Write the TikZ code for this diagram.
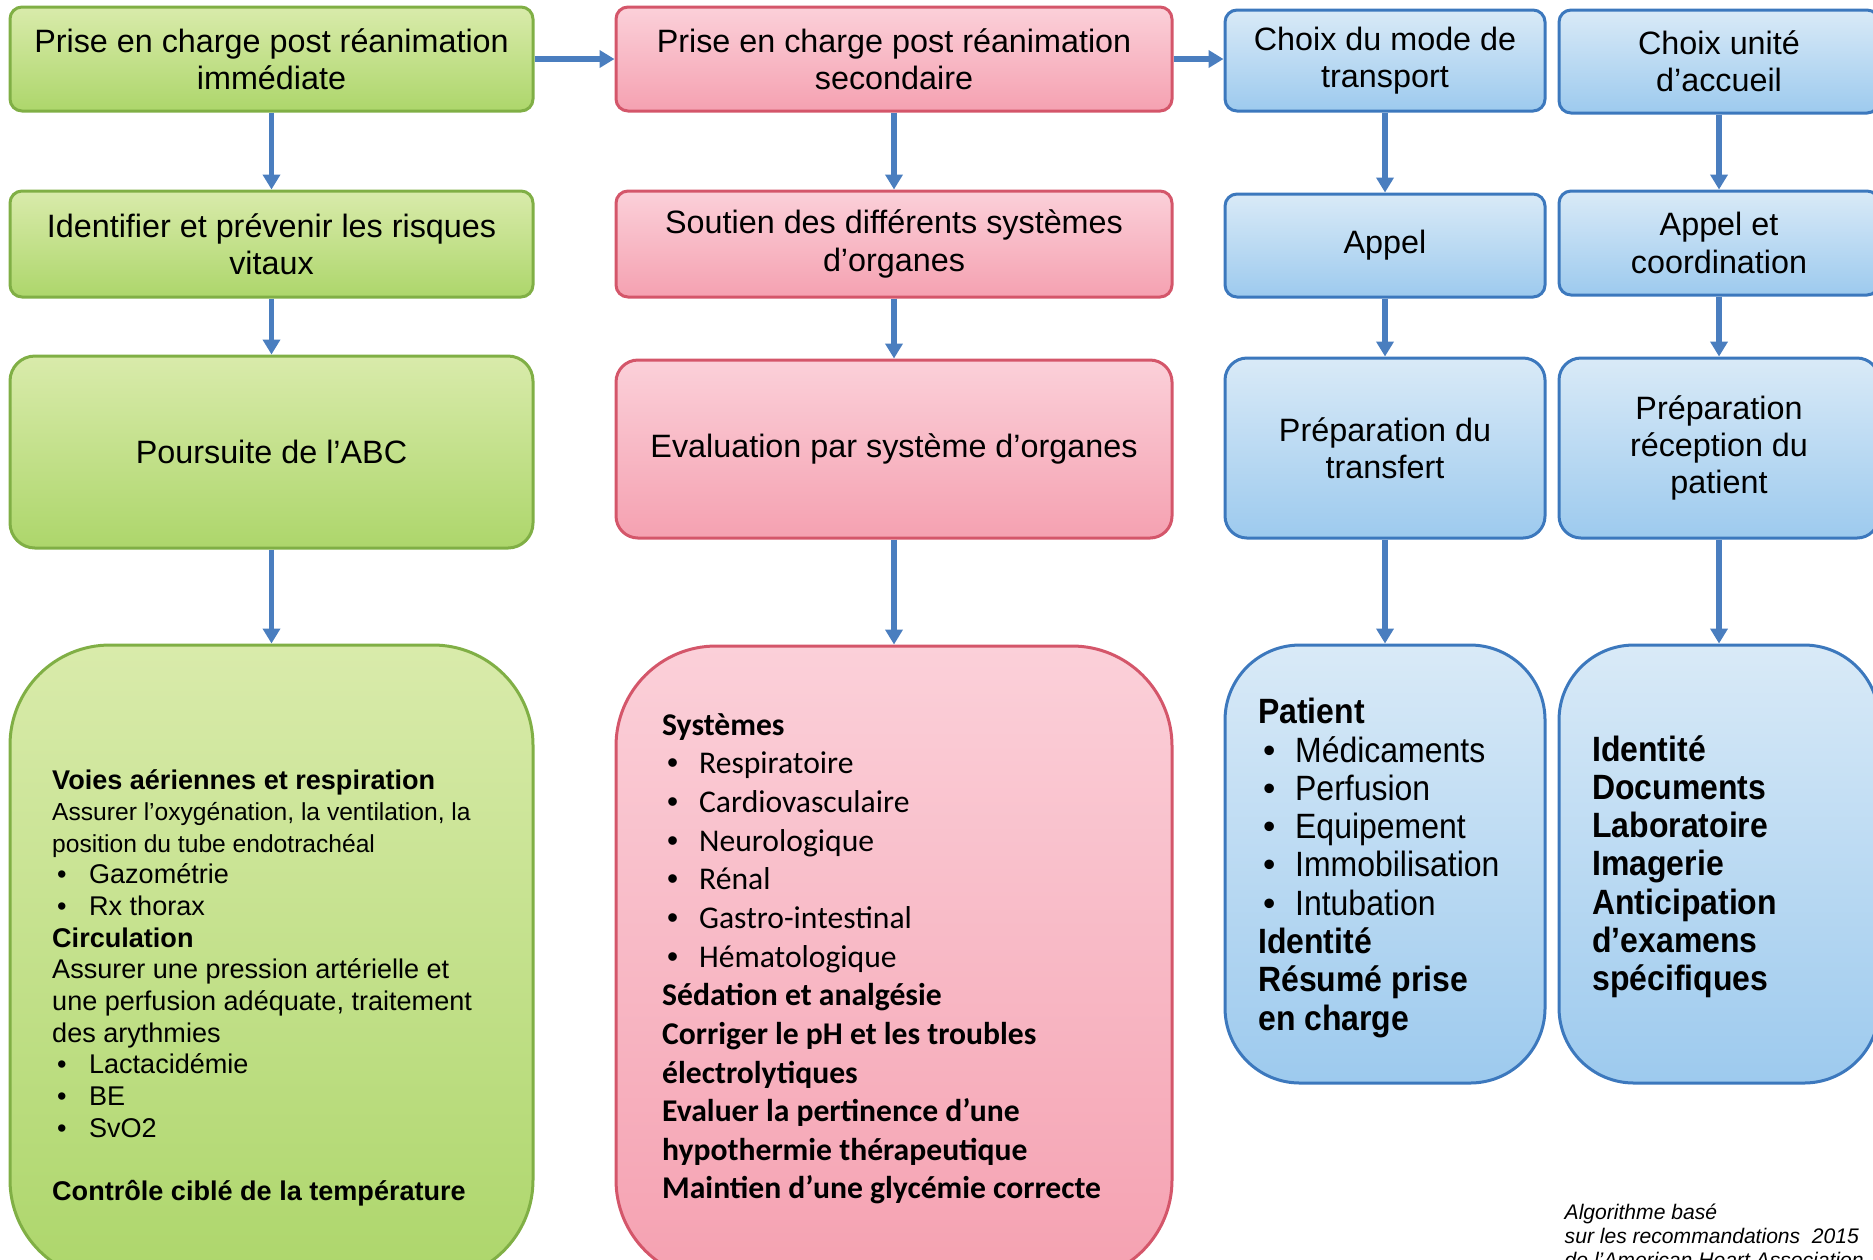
\documentclass[tikz,border=0pt]{standalone}
\usepackage{fontspec}
\setmainfont{Liberation Sans}
\newfontfamily\calibri{Carlito}
\newfontfamily\narrow[FakeStretch=0.91]{Liberation Sans}
\usepackage{xcolor}
\usepackage{tikz}
\usetikzlibrary{arrows.meta, positioning}

\definecolor{greentop}{HTML}{D9EBAB}
\definecolor{greenbot}{HTML}{ADD66B}
\definecolor{greenline}{HTML}{80AF45}
\definecolor{pinktop}{HTML}{FBD0D9}
\definecolor{pinkbot}{HTML}{F5A1B1}
\definecolor{pinkline}{HTML}{D4566A}
\definecolor{bluetop}{HTML}{D9EAF7}
\definecolor{bluebot}{HTML}{9DCAEE}
\definecolor{blueline}{HTML}{3C78BD}
\definecolor{arrowblue}{HTML}{4A7EBF}

\newcommand{\puce}[1]{\hspace*{1.4pt}\makebox[9.1pt][l]{\rmfamily\mdseries\textbullet}#1}

\begin{document}
\begin{tikzpicture}[x=0.1mm, y=-0.1mm,
    gbox/.style={rectangle, draw=greenline, line width=0.3mm, top color=greentop, bottom color=greenbot, minimum width=52.3mm, align=center, font=\fontsize{9.2}{10.6}\selectfont},
    pbox/.style={rectangle, draw=pinkline, line width=0.3mm, top color=pinktop, bottom color=pinkbot, minimum width=55.6mm, align=center, font=\fontsize{9.2}{10.6}\selectfont},
    bbox/.style={rectangle, draw=blueline, line width=0.3mm, top color=bluetop, bottom color=bluebot, minimum width=32mm, align=center, font=\fontsize{9.2}{10.6}\selectfont},
    liste/.style={anchor=north west, align=left, inner sep=0pt},
    note/.style={anchor=north west, align=left, inner sep=0pt, font=\fontsize{6}{6.8}\selectfont\itshape},
    arr/.style={-{Triangle[width=1.7mm, length=1.5mm]}, line width=0.55mm, draw=arrowblue}
]
\useasboundingbox (0,0) rectangle (1873,1259);
\clip (0,0) rectangle (1873,1259);

\node[gbox, minimum height=10.4mm, rounded corners=1.2mm] (g1) at (271.5,59) {Prise en charge post réanimation\\immédiate};
\node[gbox, minimum height=10.6mm, rounded corners=1.2mm, below=7.7mm of g1] (g2) {Identifier et prévenir les risques\\vitaux};
\node[gbox, minimum height=19.2mm, rounded corners=2.5mm, below=5.6mm of g2] (g3) {Poursuite de l’ABC};
\node[gbox, minimum height=63.5mm, rounded corners=10mm, below=9.4mm of g3] (g4) {};

\node[pbox, minimum height=10.4mm, rounded corners=1.2mm] (p1) at (894,59) {Prise en charge post réanimation\\secondaire};
\node[pbox, minimum height=10.6mm, rounded corners=1.2mm, below=7.7mm of p1] (p2) {Soutien des différents systèmes\\d’organes};
\node[pbox, minimum height=17.8mm, rounded corners=2.2mm, below=6mm of p2] (p3) {Evaluation par système d’organes};
\node[pbox, minimum height=63.4mm, rounded corners=10mm, below=10.5mm of p3] (p4) {};

\node[bbox, minimum height=10.1mm, rounded corners=1.2mm] (b1) at (1385,60.5) {Choix du mode de\\transport};
\node[bbox, minimum height=10.3mm, rounded corners=1.2mm, below=8mm of b1] (b2) {Appel};
\node[bbox, minimum height=18mm, rounded corners=2.2mm, below=5.8mm of b2] (b3) {Préparation du\\transfert};
\node[bbox, minimum height=43.8mm, rounded corners=7.5mm, below=10.4mm of b3] (b4) {};

\node[bbox, minimum height=10.3mm, rounded corners=1.2mm] (c1) at (1719,61.5) {Choix unité\\d’accueil};
\node[bbox, minimum height=10.4mm, rounded corners=1.2mm, below=7.5mm of c1] (c2) {Appel et\\coordination};
\node[bbox, minimum height=18mm, rounded corners=2.2mm, below=6mm of c2] (c3) {Préparation\\réception du\\patient};
\node[bbox, minimum height=43.8mm, rounded corners=7.5mm, below=10.4mm of c3] (c4) {};

\node[liste, font=\fontsize{7.7}{9}\selectfont] (g4txt) at ([shift={(43,125)}]g4.north west) {%
\textbf{Voies aériennes et respiration}\\
{\fontsize{7}{9}\selectfont Assurer l’oxygénation, la ventilation, la}\\
{\fontsize{7}{9}\selectfont position du tube endotrachéal}\\
\puce{Gazométrie}\\
\puce{Rx thorax}\\
\textbf{Circulation}\\
Assurer une pression artérielle et\\
une perfusion adéquate, traitement\\
des arythmies\\
\puce{Lactacidémie}\\
\puce{BE}\\
\puce{SvO2}\\
\\
\textbf{Contrôle ciblé de la température}};

\node[liste, font=\calibri\fontsize{9}{11}\selectfont] (p4txt) at ([shift={(47,68)}]p4.north west) {%
\textbf{Systèmes}\\
\puce{Respiratoire}\\
\puce{Cardiovasculaire}\\
\puce{Neurologique}\\
\puce{Rénal}\\
\puce{Gastro-intestinal}\\
\puce{Hématologique}\\
\textbf{Sédation et analgésie}\\
\textbf{Corriger le pH et les troubles}\\
\textbf{électrolytiques}\\
\textbf{Evaluer la pertinence d’une}\\
\textbf{hypothermie thérapeutique}\\
\textbf{Maintien d’une glycémie correcte}};

\node[liste, font=\narrow\fontsize{10}{10.9}\selectfont] (b4txt) at ([shift={(34,54)}]b4.north west) {%
\textbf{Patient}\\
\puce{Médicaments}\\
\puce{Perfusion}\\
\puce{Equipement}\\
\puce{Immobilisation}\\
\puce{Intubation}\\
\textbf{Identité}\\
\textbf{Résumé prise}\\
\textbf{en charge}};

\node[liste, font=\narrow\bfseries\fontsize{10}{10.9}\selectfont] (c4txt) at ([shift={(34,91)}]c4.north west) {%
Identité\\
Documents\\
Laboratoire\\
Imagerie\\
Anticipation\\
d’examens\\
spécifiques};

\node[note] (source) at (1564,1203) {Algorithme basé\\sur les recommandations~ 2015\\de l’American Heart Association};

\draw[arr] (g1) -- (p1);
\draw[arr] (p1.east) -- (p1.east -| b1.west);
\draw[arr] (g1) -- (g2);
\draw[arr] (g2) -- (g3);
\draw[arr] (g3) -- (g4);
\draw[arr] (p1) -- (p2);
\draw[arr] (p2) -- (p3);
\draw[arr] (p3) -- (p4);
\draw[arr] (b1) -- (b2);
\draw[arr] (b2) -- (b3);
\draw[arr] (b3) -- (b4);
\draw[arr] (c1) -- (c2);
\draw[arr] (c2) -- (c3);
\draw[arr] (c3) -- (c4);
\end{tikzpicture}
\end{document}
